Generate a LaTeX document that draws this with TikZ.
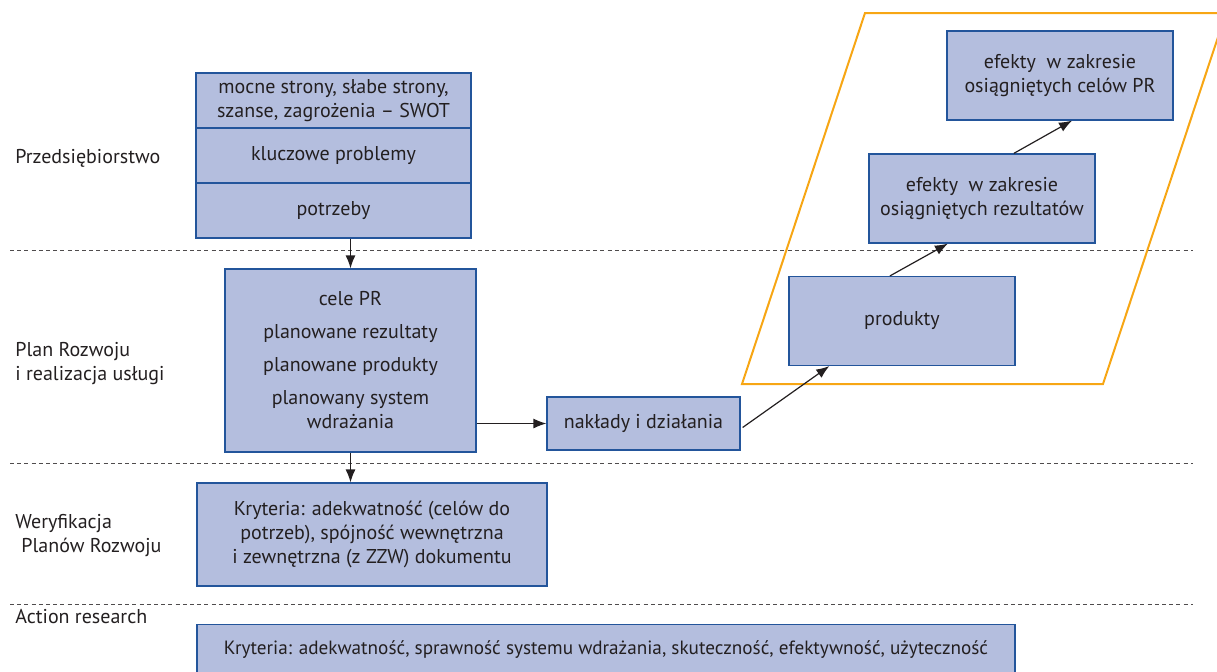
\documentclass[tikz,border=0pt]{standalone}
\usepackage{fontspec}
\setmainfont{PT Sans}
\usetikzlibrary{arrows.meta,calc}
\definecolor{boxfill}{RGB}{180,190,222}
\definecolor{boxline}{RGB}{35,85,155}
\definecolor{frameorange}{RGB}{247,166,20}
\definecolor{textgray}{RGB}{35,31,32}

\tikzset{
  stagebox/.style={draw=boxline,fill=boxfill,line width=0.6pt,align=center,inner sep=2pt,text=textgray},
  effectbox/.style={stagebox,minimum width=113pt,minimum height=44.5pt},
  rowlabel/.style={anchor=west,align=left,inner sep=0pt,text=textgray},
  flow/.style={-{Latex[length=6.5pt,width=5pt]},line width=0.6pt,draw=textgray},
  sepline/.style={dash pattern=on 2pt off 1.6pt,line width=0.5pt,draw=textgray!80}
}

\begin{document}
\begin{tikzpicture}[x=0.5pt,y=-0.5pt,font=\fontsize{10}{12}\selectfont]
  \useasboundingbox (0,0) rectangle (1217,671);

  % row separators
  \foreach \yy in {250,463,604}
    \draw[sepline] (10,\yy) -- (1193,\yy);

  % row labels
  \node[rowlabel] (lfirma) at (15,158) {Przedsiębiorstwo};
  \node[rowlabel] (lplan) at (15,364) {Plan Rozwoju\\i realizacja usługi};
  \node[rowlabel] (lweryf) at (15,536) {Weryfikacja\\\hspace*{0.3em}Planów Rozwoju};
  \node[rowlabel] (laction) at (15,617) {Action research};

  % frame round the effects
  \draw[frameorange,line width=1pt] (865,13) -- (1226,13) -- (1103,384) -- (742,384) -- cycle;

  % diagnosis
  \node[stagebox,minimum width=137.5pt,minimum height=27.5pt] (swot) at (333.5,100.5)
    {mocne strony, słabe strony,\\szanse, zagrożenia – SWOT};
  \node[stagebox,minimum width=137.5pt,minimum height=27.5pt] (problemy) at (333.5,155.5) {kluczowe problemy};
  \node[stagebox,minimum width=137.5pt,minimum height=27.5pt] (potrzeby) at (333.5,210.5) {potrzeby};

  % plan
  \node[stagebox,minimum width=125.5pt,minimum height=91.5pt] (plan) at (350.5,360.5)
    {cele PR\\[4.5pt]planowane rezultaty\\[4.5pt]planowane produkty\\[4.5pt]planowany system\\wdrażania};
  \node[stagebox,minimum width=96.5pt,minimum height=26.5pt] (naklady) at (643.5,423.5) {nakłady i działania};

  % verification
  \node[stagebox,minimum width=175pt,minimum height=51.5pt] (kryteria) at (372,534.5)
    {Kryteria: adekwatność (celów do\\potrzeb), spójność wewnętrzna\\i zewnętrzna (z ZZW) dokumentu};
  \node[stagebox,anchor=north,minimum width=409pt,minimum height=38pt,text height=7.5pt,text depth=16pt,
    font=\fontsize{9.6}{12}\selectfont] (action) at (606,624)
    {Kryteria: adekwatność, sprawność systemu wdrażania, skuteczność, efektywność, użyteczność};

  % effects
  \node[effectbox] (produkty) at (902,321) {produkty};
  \node[effectbox] (rezultaty) at (982,198.5) {efekty~ w zakresie\\osiągniętych rezultatów};
  \node[effectbox] (cele) at (1060,75.5) {efekty~ w zakresie\\osiągniętych celów PR};

  % connectors
  \draw[flow] (potrzeby.south -| plan.north) -- (plan.north);
  \draw[flow] (plan.south) -- (plan.south |- kryteria.north);
  \draw[flow] (plan.east |- naklady.west) -- (naklady.west);
  \draw[flow] ($(naklady.east)+(2,4)$) -- ($(produkty.south west)!.18!(produkty.south east)$);
  \draw[flow] ($(produkty.north west)!.447!(produkty.north east)$) -- ($(rezultaty.south west)!.35!(rezultaty.south east)$);
  \draw[flow] ($(rezultaty.north west)!.64!(rezultaty.north east)$) -- ($(cele.south west)!.553!(cele.south east)$);
\end{tikzpicture}
\end{document}
